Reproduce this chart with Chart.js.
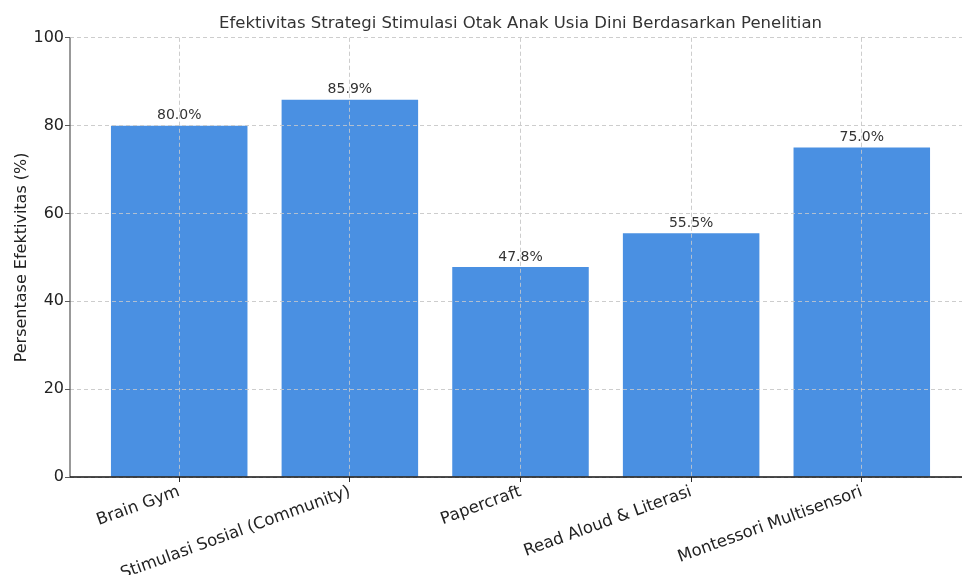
<!DOCTYPE html>
<html>
<head>
<meta charset="utf-8">
<script src="https://cdn.jsdelivr.net/npm/chart.js@4"></script>
<style>
  html, body { margin: 0; padding: 0; background: #fff; overflow: hidden; }
  #wrap { width: 962px; height: 575px; overflow: hidden; }
</style>
</head>
<body>
<div id="wrap"><canvas id="myChart" width="975" height="575"></canvas></div>
<script>
  // data
  const categories = ['Brain Gym', 'Stimulasi Sosial (Community)', 'Papercraft', 'Read Aloud & Literasi', 'Montessori Multisensori'];
  const values = [80.0, 85.9, 47.8, 55.5, 75.0];
  const yTicks = [0, 20, 40, 60, 80, 100];

  const FONT = "'DejaVu Sans', sans-serif";

  // grid redrawn over the bars, spines, and value labels above bars
  const topLayer = {
    id: 'topLayer',
    afterDatasetsDraw(chart) {
      const { ctx, chartArea: { top, bottom, left, right } } = chart;
      chart.scales.x.drawGrid(chart.chartArea);
      chart.scales.y.drawGrid(chart.chartArea);
      ctx.save();
      ctx.lineWidth = 1.2;
      ctx.strokeStyle = '#555';
      ctx.beginPath();
      ctx.moveTo(left, top);
      ctx.lineTo(left, bottom);
      ctx.stroke();
      ctx.strokeStyle = '#111';
      ctx.lineWidth = 1.4;
      ctx.beginPath();
      ctx.moveTo(left, bottom);
      ctx.lineTo(right, bottom);
      ctx.stroke();

      const meta = chart.getDatasetMeta(0);
      ctx.font = '14px ' + FONT;
      ctx.fillStyle = '#333';
      ctx.textAlign = 'center';
      ctx.textBaseline = 'bottom';
      meta.data.forEach((bar, i) => {
        ctx.fillText(values[i].toFixed(1) + '%', bar.x, bar.y - 3);
      });
      ctx.restore();
    }
  };

  const config = {
    type: 'bar',
    data: {
      datasets: [{
        data: values.map((v, i) => ({ x: i, y: v })),
        backgroundColor: '#4a90e2',
        categoryPercentage: 1,
        barPercentage: 0.8
      }]
    },
    options: {
      responsive: false,
      animation: false,
      layout: { padding: { left: 0, right: 4, top: 0, bottom: 0 } },
      plugins: {
        legend: { display: false },
        tooltip: { enabled: false },
        title: {
          display: true,
          fullSize: false,
          text: 'Efektivitas Strategi Stimulasi Otak Anak Usia Dini Berdasarkan Penelitian',
          color: '#333',
          font: { family: FONT, size: 16.5, weight: 'normal' },
          padding: { top: 14, bottom: 4 }
        }
      },
      scales: {
        x: {
          type: 'linear',
          offset: false,
          min: -0.64,
          max: 4.64,
          afterBuildTicks(scale) {
            scale.ticks = categories.map((c, i) => ({ value: i }));
          },
          afterFit(scale) {
            scale.height = 98;
          },
          ticks: {
            color: '#222',
            font: { family: FONT, size: 16.5 },
            minRotation: 20,
            maxRotation: 20,
            autoSkip: false,
            padding: 0,
            callback: (v) => categories[v]
          },
          grid: { offset: false, color: '#cccccc', lineWidth: 0.8, tickColor: '#222', tickLength: 5 },
          border: { display: false, dash: [4, 3] }
        },
        y: {
          min: 0,
          max: 100,
          afterBuildTicks(scale) {
            scale.ticks = yTicks.map(v => ({ value: v }));
          },
          afterFit(scale) {
            scale.width = 70;
          },
          ticks: {
            color: '#222',
            font: { family: FONT, size: 16 },
            padding: 1
          },
          grid: { color: '#cccccc', lineWidth: 0.8, tickColor: '#555', tickLength: 5 },
          border: { display: false, dash: [4, 3] },
          title: {
            display: true,
            text: 'Persentase Efektivitas (%)',
            color: '#222',
            font: { family: FONT, size: 16 },
            padding: { top: 12, bottom: 4 }
          }
        }
      }
    },
    plugins: [topLayer]
  };

  const myChart = new Chart(document.getElementById('myChart'), config);
</script>
</body>
</html>
